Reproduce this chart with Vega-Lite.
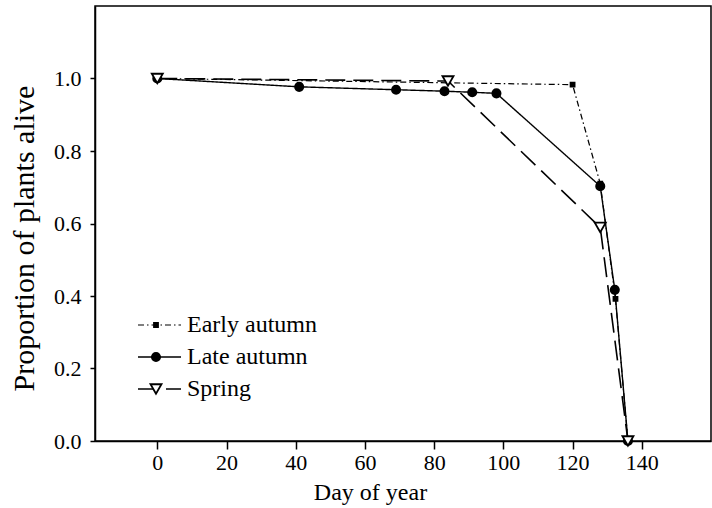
{
  "$schema": "https://vega.github.io/schema/vega-lite/v6.json",
  "width": 616,
  "height": 435,
  "autosize": "none",
  "padding": {"left": 95, "top": 6, "right": 1, "bottom": 67},
  "background": "white",
  "config": {
    "view": {"stroke": "black", "strokeWidth": 1.5},
    "font": "Liberation Serif, Times New Roman, serif",
    "axis": {
      "grid": false,
      "domainColor": "black",
      "domainWidth": 1.5,
      "tickColor": "black",
      "tickWidth": 1.5,
      "labelColor": "black",
      "labelFont": "Liberation Serif, Times New Roman, serif",
      "titleFont": "Liberation Serif, Times New Roman, serif",
      "titleColor": "black",
      "titleFontWeight": "normal"
    },
    "legend": {
      "labelFont": "Liberation Serif, Times New Roman, serif",
      "labelColor": "black",
      "labelFontSize": 24,
      "padding": 0,
      "rowPadding": 0,
      "clipHeight": 32
    }
  },
  "data": {
    "values": [
      {"series": "Early autumn", "day": 0, "p": 1.0},
      {"series": "Early autumn", "day": 120, "p": 0.983},
      {"series": "Early autumn", "day": 128, "p": 0.71},
      {"series": "Early autumn", "day": 132.4, "p": 0.392},
      {"series": "Early autumn", "day": 136, "p": 0.0},
      {"series": "Late autumn", "day": 0, "p": 1.0},
      {"series": "Late autumn", "day": 41, "p": 0.977},
      {"series": "Late autumn", "day": 69, "p": 0.969},
      {"series": "Late autumn", "day": 83, "p": 0.965},
      {"series": "Late autumn", "day": 91, "p": 0.962},
      {"series": "Late autumn", "day": 98, "p": 0.959},
      {"series": "Late autumn", "day": 128, "p": 0.703},
      {"series": "Late autumn", "day": 132.2, "p": 0.417},
      {"series": "Late autumn", "day": 136, "p": 0.0},
      {"series": "Spring", "day": 0, "p": 1.0},
      {"series": "Spring", "day": 84, "p": 0.993},
      {"series": "Spring", "day": 128, "p": 0.589},
      {"series": "Spring", "day": 136, "p": 0.0}
    ]
  },
  "encoding": {
    "x": {
      "field": "day",
      "type": "quantitative",
      "scale": {"domain": [-18, 160], "nice": false, "zero": false},
      "axis": {
        "values": [0, 20, 40, 60, 80, 100, 120, 140],
        "tickSize": 8,
        "labelFontSize": 22,
        "labelPadding": 3,
        "title": "Day of year",
        "titleFontSize": 24,
        "titleX": 275,
        "titleY": 58,
        "titleBaseline": "alphabetic"
      }
    },
    "y": {
      "field": "p",
      "type": "quantitative",
      "scale": {"domain": [0, 1.2], "nice": false},
      "axis": {
        "values": [0, 0.2, 0.4, 0.6, 0.8, 1.0],
        "format": ".1f",
        "tickSize": 5,
        "labelFontSize": 22,
        "labelPadding": 9,
        "title": "Proportion of plants alive",
        "titleFontSize": 30,
        "titleX": -62,
        "titleY": 232,
        "titleAngle": -90,
        "titleAlign": "center",
        "titleBaseline": "alphabetic"
      }
    }
  },
  "layer": [
    {
      "mark": {"type": "line", "stroke": "black"},
      "encoding": {
        "strokeDash": {
          "field": "series",
          "type": "nominal",
          "scale": {
            "domain": ["Early autumn", "Late autumn", "Spring"],
            "range": [[6, 3, 1.5, 3], [1, 0], [20, 8]]
          },
          "legend": {
            "orient": "none",
            "legendX": 42,
            "legendY": 303,
            "title": null,
            "symbolType": "stroke",
            "symbolSize": 1849,
            "symbolStrokeWidth": 1.5,
            "symbolStrokeColor": "black",
            "labelOffset": 5
          }
        },
        "strokeWidth": {
          "field": "series",
          "type": "nominal",
          "scale": {
            "domain": ["Early autumn", "Late autumn", "Spring"],
            "range": [1.2, 1.6, 1.8]
          },
          "legend": null
        }
      }
    },
    {
      "mark": {"type": "point", "filled": false, "strokeWidth": 1.8, "opacity": 1},
      "encoding": {
        "shape": {
          "field": "series",
          "type": "nominal",
          "scale": {"range": ["square", "circle", "triangle-down"]},
          "legend": {
            "orient": "none",
            "legendX": 49,
            "legendY": 303,
            "title": null,
            "labelExpr": "''",
            "symbolStrokeWidth": 1.8
          }
        },
        "fill": {
          "field": "series",
          "type": "nominal",
          "scale": {"range": ["black", "black", "white"]},
          "legend": {
            "orient": "none",
            "legendX": 49,
            "legendY": 303,
            "title": null,
            "labelExpr": "''",
            "symbolStrokeWidth": 1.8
          }
        },
        "stroke": {
          "field": "series",
          "type": "nominal",
          "scale": {"range": ["black", "black", "black"]},
          "legend": {
            "orient": "none",
            "legendX": 49,
            "legendY": 303,
            "title": null,
            "labelExpr": "''",
            "symbolStrokeWidth": 1.8
          }
        },
        "size": {
          "field": "series",
          "type": "nominal",
          "scale": {"range": [16, 121, 100]},
          "legend": {
            "orient": "none",
            "legendX": 49,
            "legendY": 303,
            "title": null,
            "labelExpr": "''",
            "symbolStrokeWidth": 1.8
          }
        }
      }
    }
  ]
}
